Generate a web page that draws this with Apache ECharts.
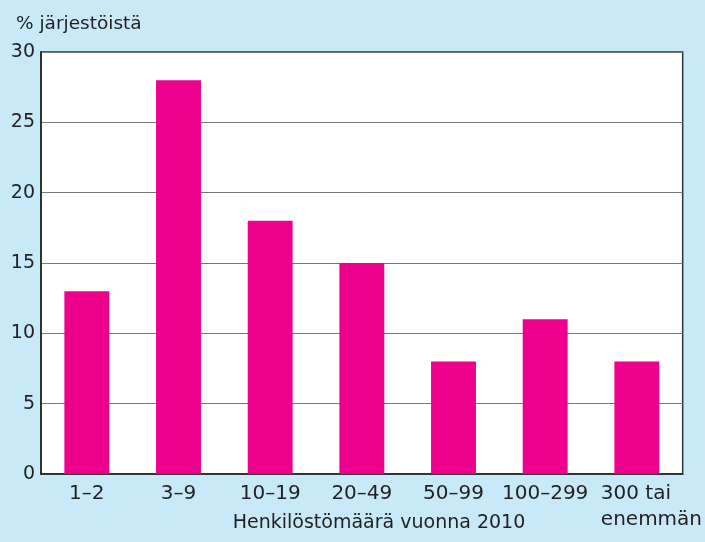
<!DOCTYPE html>
<html><head><meta charset="utf-8">
<script src="https://cdn.jsdelivr.net/npm/echarts@6/dist/echarts.min.js"></script>
<style>html,body{margin:0;padding:0;background:#c8e9f8;}#c{width:705px;height:542px;}</style>
</head><body><div id="c"></div>
<script>
const categories = ['1–2', '3–9', '10–19', '20–49', '50–99', '100–299', '300 tai\nenemmän'];
const values = [13, 28, 18, 15, 8, 11, 8];
const yTicks = [0, 5, 10, 15, 20, 25, 30];
const yTitle = '% järjestöistä';
const xTitle = 'Henkilöstömäärä vuonna 2010';

const font = '"DejaVu Sans", sans-serif';
const chart = echarts.init(document.getElementById('c'), null, {renderer: 'canvas'});
chart.setOption({
  backgroundColor: '#c8e9f8',
  animation: false,
  title: [
    {text: yTitle, left: 11, top: 10, textStyle: {fontFamily: font, fontSize: 18.5, fontWeight: 'normal', color: '#231f20'}},
    {text: xTitle, left: 374, top: 509, textAlign: 'center', textStyle: {fontFamily: font, fontSize: 19, fontWeight: 'normal', color: '#231f20'}}
  ],
  grid: {left: 41, right: 22, top: 52, bottom: 68, show: true, backgroundColor: '#fff', borderColor: '#333', borderWidth: 1.5},
  xAxis: {
    type: 'category',
    data: categories,
    axisLine: {lineStyle: {color: '#222', width: 1.5}},
    axisTick: {show: false},
    axisLabel: {
      interval: 0, margin: 7, fontFamily: font, fontSize: 20, color: '#231f20', lineHeight: 26,
      formatter: function (v) {
        if (v.indexOf('\n') >= 0) {
          return v.split('\n').map(s => '{l|' + s + '}').join('\n');
        }
        return v;
      },
      rich: {l: {width: 72, align: 'left', fontFamily: font, fontSize: 20, color: '#231f20', lineHeight: 26}}
    }
  },
  yAxis: {
    type: 'value', min: 0, max: 30, interval: 5,
    axisLine: {show: true, lineStyle: {color: '#222', width: 1.5}},
    axisTick: {show: false},
    axisLabel: {margin: 6, fontFamily: font, fontSize: 19, color: '#231f20',
      formatter: v => yTicks.includes(v) ? String(v) : ''},
    splitLine: {lineStyle: {color: '#777', width: 1}}
  },
  series: [{
    type: 'bar',
    data: values,
    barWidth: '49%',
    itemStyle: {color: '#ec008c'}
  }]
});
</script></body></html>
